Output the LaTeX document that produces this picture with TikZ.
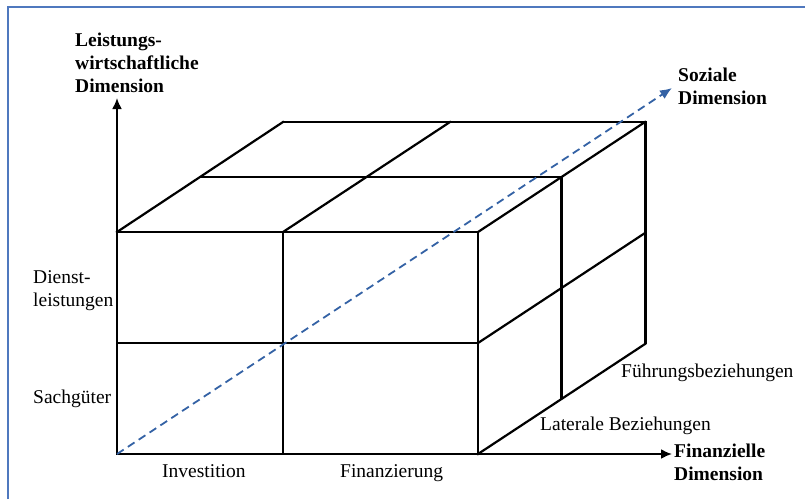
\documentclass[tikz,border=0pt]{standalone}
\usepackage{fontspec}
\setmainfont{Liberation Serif}
\usetikzlibrary{arrows.meta}
\definecolor{frameblue}{RGB}{79,120,190}
\definecolor{dashblue}{RGB}{52,98,165}
\tikzset{
  edge/.style={line width=2.2pt, line cap=rect},
  thickedge/.style={line width=3pt},
  axis/.style={line width=2pt, -{Latex[length=11pt,width=10pt]}},
  soc/.style={line width=1.8pt, dashblue, dash pattern=on 8pt off 5pt, -{Latex[length=12pt,width=10pt]}},
  lbl/.style={inner sep=0pt, anchor=north west, align=left, font=\fontsize{19.5}{23}\selectfont},
  blbl/.style={lbl, font=\fontsize{19.5}{23}\selectfont\bfseries},
}
\begin{document}
\begin{tikzpicture}[x=1pt,y=-1pt]
\useasboundingbox (0,0) rectangle (805,499);
% frame
\draw[frameblue, line width=1.3pt] (8,499) -- (8,7) -- (805,7);

% axis coordinates
\coordinate (O) at (117,454);
\coordinate (ytip) at (117,98);
\coordinate (xtip) at (672,454);
\coordinate (ztip) at (672,88);

% front face
\draw[edge] (117,232) rectangle (478,454);
\draw[edge] (283,232) -- (283,454);
\draw[edge] (117,343) -- (478,343);
% top face
\draw[edge] (117,232) -- (283,122);
\draw[edge] (283,232) -- (450,122);
\draw[edge] (478,232) -- (645,122);
\draw[edge] (200.5,177) -- (561.5,177);
\draw[edge] (283,122) -- (645,122);
% right side face
\draw[edge] (478,454) -- (645,344);
\draw[edge] (478,343) -- (645,233);
\draw[thickedge] (645,121) -- (645,344);
\draw[thickedge] (561.5,177) -- (561.5,399);

% axes
\draw[axis] (O) -- (ytip);
\draw[axis] (O) -- (xtip);
\draw[soc] (O) -- (ztip);

% labels
\node[blbl] (lw) at (75,32.7) {Leistungs-\\wirtschaftliche\\Dimension};
\node[blbl] (sd) at (678,67.7) {Soziale\\Dimension};
\node[blbl] (fd) at (674,443.7) {Finanzielle\\Dimension};
\node[lbl] (dl) at (33,270.7) {Dienst-\\leistungen};
\node[lbl] (sg) at (33,389.7) {Sachgüter};
\node[lbl] (inv) at (162,464.7) {Investition};
\node[lbl] (fin) at (340,464.7) {Finanzierung};
\node[lbl] (fb) at (621,363.7) {Führungsbeziehungen};
\node[lbl] (lb) at (540,416.7) {Laterale Beziehungen};
\end{tikzpicture}
\end{document}
